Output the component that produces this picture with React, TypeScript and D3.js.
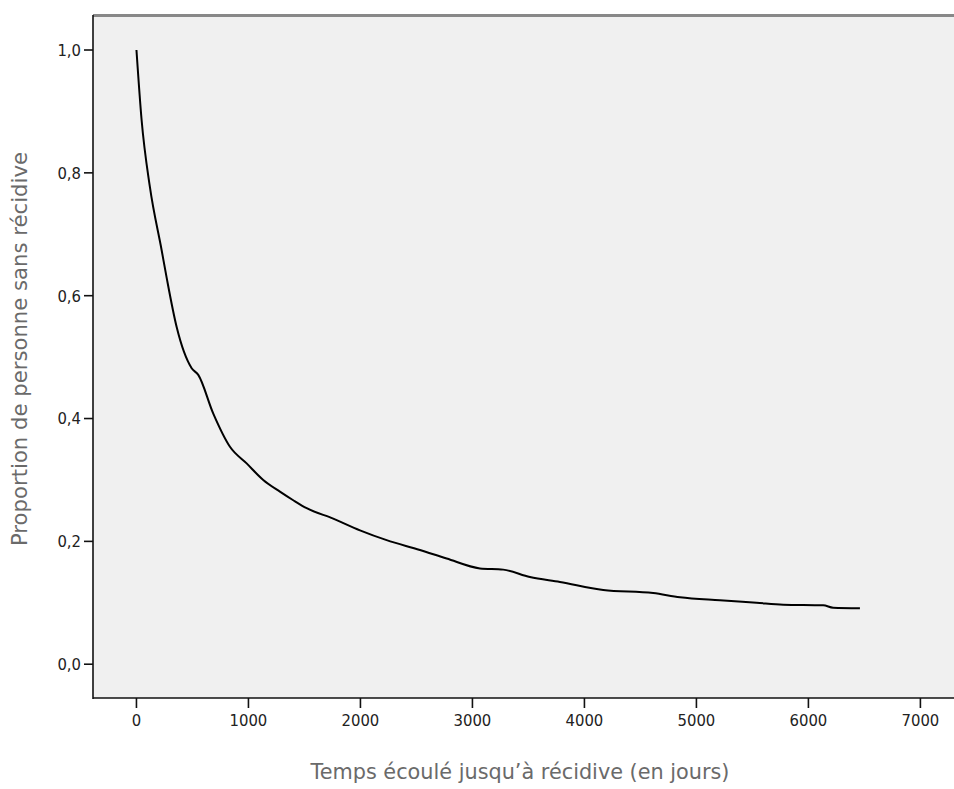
import React from "react";
import * as d3 from "d3";

const times = [0, 46, 120, 225, 270, 359, 493, 552, 686, 835, 984, 1132, 1281, 1400, 1520, 1757, 1996, 2234, 2531, 2770, 3067, 3275, 3513, 3781, 4168, 4614, 4853, 5210, 5537, 5775, 6132, 6221, 6460];
const survival = [1.0, 0.886, 0.777, 0.674, 0.629, 0.549, 0.482, 0.471, 0.408, 0.354, 0.327, 0.3, 0.281, 0.267, 0.254, 0.237, 0.218, 0.202, 0.186, 0.172, 0.156, 0.154, 0.142, 0.134, 0.121, 0.116, 0.109, 0.104, 0.1, 0.097, 0.096, 0.092, 0.091];
const xTicks = [0, 1000, 2000, 3000, 4000, 5000, 6000, 7000];
const yTicks = [0, 0.2, 0.4, 0.6, 0.8, 1.0];
const xTitle = "Temps écoulé jusqu’à récidive (en jours)";
const yTitle = "Proportion de personne sans récidive";

const W = 954;
const H = 789;
const left = 93;
const right = 954;
const top = 15;
const bottom = 698;
const tickFont = "'DejaVu Sans Condensed', 'Liberation Sans', Arial, sans-serif";
const titleFont = "'DejaVu Sans', Verdana, sans-serif";

export default function App() {
  const x = d3.scaleLinear().domain([-388, 7300]).range([left, right]);
  const y = d3.scaleLinear().domain([-0.055, 1.057]).range([bottom, top]);
  const pts: [number, number][] = times.map((t, i) => [t, survival[i]]);
  const line = d3
    .line<[number, number]>()
    .x((d) => x(d[0]))
    .y((d) => y(d[1]))
    .curve(d3.curveMonotoneX);
  const fmt = (v: number) => v.toFixed(1).replace(".", ",");
  return (
    <svg width={W} height={H} style={{ position: "absolute", left: 0, top: 0, background: "#fff" }}>
      <rect x={left} y={top} width={right - left} height={bottom - top} fill="#f0f0f0" />
      <line x1={left} x2={right} y1={top + 0.5} y2={top + 0.5} stroke="#888" strokeWidth={3} />
      <line x1={left} x2={left} y1={top} y2={bottom + 1} stroke="#111" strokeWidth={1.6} />
      <line x1={left} x2={right} y1={bottom} y2={bottom} stroke="#111" strokeWidth={1.6} />
      {yTicks.map((v) => (
        <g key={"y" + v}>
          <line x1={left - 9} x2={left} y1={y(v)} y2={y(v)} stroke="#111" strokeWidth={1.6} />
          <text x={left - 12} y={y(v)} dy="0.36em" textAnchor="end" fontFamily={tickFont} fontSize={16.5} fill="#222">
            {fmt(v)}
          </text>
        </g>
      ))}
      {xTicks.map((v) => (
        <g key={"x" + v}>
          <line x1={x(v)} x2={x(v)} y1={bottom} y2={bottom + 10} stroke="#111" strokeWidth={1.6} />
          <text x={x(v)} y={726} textAnchor="middle" fontFamily={tickFont} fontSize={16.5} fill="#222">
            {v}
          </text>
        </g>
      ))}
      <path d={line(pts) || ""} fill="none" stroke="#000" strokeWidth={2} />
      <text x={520} y={779} textAnchor="middle" fontFamily={titleFont} fontSize={20.8} fill="#6a6a6a">
        {xTitle}
      </text>
      <text
        transform={`translate(27, 349) rotate(-90)`}
        textAnchor="middle"
        fontFamily={titleFont}
        fontSize={21.2}
        fill="#6a6a6a"
      >
        {yTitle}
      </text>
    </svg>
  );
}
